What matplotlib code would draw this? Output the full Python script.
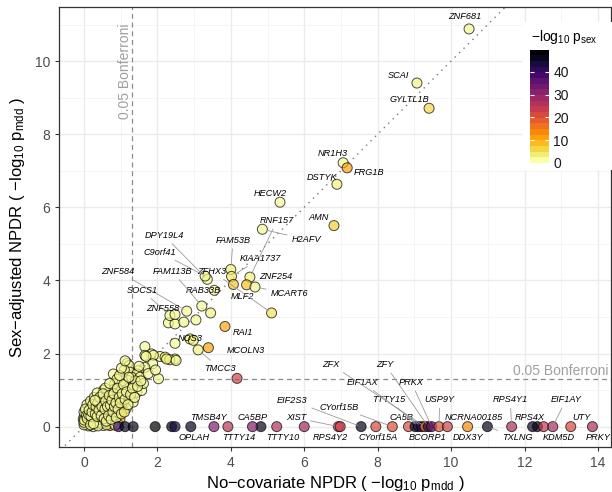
import numpy as np
import matplotlib
matplotlib.use('Agg')
import matplotlib as mpl
import matplotlib.pyplot as plt
from matplotlib.colors import Normalize
from matplotlib.patches import Rectangle

plt.rcParams['font.family'] = 'Liberation Sans'
plt.rcParams['mathtext.fontset'] = 'custom'
plt.rcParams['mathtext.rm'] = 'Liberation Sans'
plt.rcParams['mathtext.it'] = 'Liberation Sans:italic'

# labelled genes: no-covariate -log10 p, sex-adjusted -log10 p, -log10 p(sex)
gene_names = ['ZNF681', 'SCAI', 'GYLTL1B', 'NR1H3', 'FRG1B', 'DSTYK', 'HECW2', 'AMN',
              'H2AFV', 'RNF157', 'FAM53B', 'KIAA1737', 'ZNF254', 'MLF2', 'MCART6', 'ZFHX3',
              'DPY19L4', 'C9orf41', 'RAB33B', 'FAM113B', 'ZNF584', 'SOCS1', 'ZNF558',
              'RAI1', 'NOS3', 'MCOLN3', 'TMCC3',
              'OPLAH', 'TMSB4Y', 'TTTY14', 'CA5BP', 'TTTY10', 'XIST', 'RPS4Y2', 'EIF2S3',
              'CYorf15A', 'CYorf15B', 'CA5B', 'BCORP1', 'TTTY15', 'EIF1AX', 'ZFX', 'ZFY',
              'PRKX', 'USP9Y', 'NCRNA00185', 'DDX3Y', 'TXLNG', 'RPS4Y1', 'RPS4X', 'KDM5D',
              'EIF1AY', 'UTY', 'PRKY']
gene_x = [10.49, 9.07, 9.40, 7.06, 7.17, 6.89, 5.34, 6.81,
          4.86, 4.52, 4.00, 4.02, 4.43, 4.07, 4.66, 5.11,
          3.36, 3.30, 3.55, 3.21, 2.80, 2.34, 2.48,
          3.84, 2.98, 3.39, 3.11,
          2.91, 3.54, 3.92, 4.59, 5.25, 6.93, 6.98, 7.55,
          7.95, 8.40, 8.84, 9.02, 9.11, 9.20, 9.29, 9.38,
          9.47, 9.67, 9.90, 10.45, 10.99, 11.65, 12.22, 12.52,
          12.77, 13.26, 13.85]
gene_y = [10.88, 9.40, 8.71, 7.22, 7.08, 6.63, 6.14, 5.50,
          5.40, 4.09, 4.30, 4.11, 3.88, 3.89, 3.82, 3.11,
          4.03, 4.12, 3.73, 3.30, 3.16, 3.04, 3.07,
          2.74, 2.36, 2.16, 2.10,
          0, 0, 0, 0, 0, 0, 0, 0,
          0, 0, 0, 0, 0, 0, 0, 0,
          0, 0, 0, 0, 0, 0, 0, 0,
          0, 0, 0]
gene_psex = [1, 1.5, 5, 1, 10, 2, 1, 6,
             1, 2, 2, 3, 7, 7, 1.5, 4,
             1, 1.5, 1, 1, 1, 1, 1,
             10, 2, 10, 2,
             47, 32, 25, 32, 26, 22, 23, 47,
             21, 20, 20, 46, 45, 42, 14, 44,
             35, 20, 22, 13, 47, 27, 47, 24,
             27, 21, 27]

# unlabelled genes
bg_x = [3.45, 3.05, 2.30, 2.48, 2.72, 1.66, 2.48, 2.89, 1.84, 1.66, 2.07, 2.21, 2.48,
        1.89, 2.34, 4.17,
        1.69, 2.25, 2.51, 1.18, 1.23, 1.87, 1.66, 1.48, 1.25, 1.44, 0.80, 2.03, 1.30,
        1.21, 1.53, 0.84, 0.98, 1.25, 1.44, 1.57, 0.53, 0.48, 0.39, 0.62, 0.75, 0.89,
        1.07, 1.25, 1.34, 1.07, 0.30, 0.21, 0.35, 0.53, 0.71, 0.89, 0.03, -0.02, 0.12,
        0.25, 0.44, 0.62, 0.80, 0.98, 0.03, 0.16, 0.35, 0.53, 0.25, 0.71,
        0.05, 0.10, 0.15, 0.20, 0.28, 0.32, 0.40, 0.45, 0.50, 0.58, 0.65, 0.70, 0.78,
        0.85, 0.92, 0.06, 0.10, 0.16, 0.40, 0.48, 0.56, 0.66, 0.75, 0.85, 0.95, 0.28,
        0.42, 0.60, 0.68, 0.78, 0.95, 1.15, 0.46, 0.55, 0.68, 0.82, 0.92, 1.00, 1.10,
        1.18, 1.05, 1.35, 1.40, 0.90, 1.62, 1.75, 1.95, 1.10, 0.12, 0.38, 0.62, 0.85,
        0.02, 0.08, 0.18, 0.28, 0.36, 0.58, 0.70, 1.03,
        0.00, 0.00, 0.01, 0.00, 0.04, 0.07, 0.09, 0.13, 0.14, 0.18, 0.19, 0.22, 0.24,
        0.26, 0.31, 0.33, 0.36, 0.38, 0.41, 0.43, 0.47, 0.49, 0.52, 0.55, 0.57, 0.59,
        0.61, 0.64, 0.67, 0.69, 0.72, 0.74, 0.76, 0.79, 0.81, 0.83, 0.87, 0.88, 0.91,
        0.93, 0.96, 0.99, 1.02, 1.04, 1.08, 1.12, 1.10, 1.16, 1.20, 1.22, 1.27, 1.32,
        1.38, 1.46, 1.50, 1.55, 0.97, 1.02, 1.12, 0.30,
        0.94, 1.12, 1.34, 1.94, 2.39, 2.48, 4.82, 6.00, 12.35]
bg_y = [3.11, 2.92, 2.84, 2.81, 2.86, 2.19, 2.28, 2.40, 1.99, 1.95, 1.92, 1.90, 1.85,
        1.95, 1.83, 1.32,
        1.92, 1.85, 1.81, 1.73, 1.67, 1.72, 1.62, 1.53, 1.49, 1.44, 1.44, 1.31, 1.35,
        1.26, 1.35, 1.17, 1.12, 0.99, 0.94, 0.99, 0.99, 0.85, 0.76, 0.80, 0.85, 0.76,
        0.71, 0.76, 0.67, 0.60, 0.62, 0.53, 0.44, 0.53, 0.48, 0.44, 0.35, 0.21, 0.25,
        0.30, 0.25, 0.30, 0.25, 0.21, 0.07, 0.03, 0.07, 0.03, 0.0, 0.03,
        0.15, 0.10, 0.18, 0.12, 0.16, 0.22, 0.14, 0.10, 0.18, 0.12, 0.20, 0.14, 0.10,
        0.15, 0.08, 0.42, 0.48, 0.38, 0.36, 0.42, 0.38, 0.42, 0.35, 0.32, 0.38, 0.48,
        0.58, 0.62, 0.70, 0.62, 0.55, 0.50, 0.68, 0.75, 0.95, 1.02, 0.92, 0.98, 0.88,
        1.05, 1.25, 1.12, 1.25, 1.30, 1.18, 1.45, 1.55, 1.55, 0.02, 0.02, 0.05, 0.04,
        0.28, 0.60, 0.70, 0.80, 0.92, 1.05, 1.18, 0.62,
        0.05, 0.12, 0.18, 0.40, 0.48, 0.30, 0.22, 0.32, 0.45, 0.05, 0.28, 0.40, 0.60,
        0.08, 0.35, 0.55, 0.28, 0.65, 0.45, 0.80, 0.30, 0.55, 0.90, 0.22, 0.48, 0.70,
        0.15, 0.55, 0.30, 0.85, 0.58, 0.20, 0.72, 0.40, 0.90, 0.55, 0.65, 0.25, 1.05,
        0.48, 0.80, 0.65, 0.35, 0.90, 1.15, 0.75, 0.40, 0.95, 0.60, 1.35, 0.88, 1.05,
        0.80, 1.10, 1.65, 1.25, 1.40, 1.60, 1.80, 0.72,
        0, 0, 0, 0, 0, 0, 0, 0, 0]
bg_psex = [2, 1, 1, 1, 1, 1, 1, 2, 1, 1, 1, 2, 1,
           1, 2, 22,
           1, 2, 1, 1, 1, 1, 1, 1, 1, 1, 1, 1, 1,
           1, 1, 1, 1, 1, 1, 1, 1, 1, 1, 1, 2, 1,
           1, 1, 1, 8, 1, 1, 1, 1, 1, 1, 1, 1, 1,
           1, 1, 1, 1, 9, 1, 1, 1, 1, 1, 12,
           1, 2, 1, 1, 1, 1, 1, 1, 1, 1, 1, 1, 1,
           1, 1, 1, 1, 1, 1, 1, 1, 1, 1, 1, 1, 1,
           1, 1, 1, 1, 1, 1, 1, 1, 1, 1, 1, 1, 1,
           1, 1, 1, 1, 1, 1, 1, 1, 1, 1, 1, 1, 1,
           1, 1, 1, 1, 1, 1, 1, 8,
           1, 1, 2, 1, 1, 1, 1, 1, 1, 1, 1, 1, 1,
           1, 1, 1, 1, 1, 1, 1, 1, 1, 1, 1, 1, 1,
           1, 1, 1, 1, 1, 1, 1, 1, 1, 1, 1, 1, 1,
           1, 1, 1, 1, 1, 1, 1, 3, 1, 1, 1, 1, 1,
           1, 1, 1, 1, 1, 1, 1, 1,
           40, 47, 47, 49.5, 48, 44, 47, 28, 47]

bonf = 1.3
psex_max = 49.7

# where each label sits (text centre) and whether it gets a leader line
label_pos = {
    'ZNF681': (10.38, 11.21, False), 'SCAI': (8.56, 9.62, False), 'GYLTL1B': (8.86, 8.96, False),
    'NR1H3': (6.78, 7.48, False), 'FRG1B': (7.77, 6.96, False), 'DSTYK': (6.49, 6.82, False),
    'HECW2': (5.07, 6.38, False), 'AMN': (6.38, 5.73, False), 'H2AFV': (6.05, 5.12, True),
    'RNF157': (5.26, 5.64, True), 'FAM53B': (4.06, 5.10, True), 'KIAA1737': (4.80, 4.60, True),
    'ZNF254': (5.23, 4.11, False), 'MLF2': (4.33, 3.56, False), 'MCART6': (5.59, 3.64, True),
    'ZFHX3': (3.49, 4.25, True), 'DPY19L4': (2.18, 5.23, True), 'C9orf41': (2.07, 4.77, True),
    'RAB33B': (3.24, 3.73, False), 'FAM113B': (2.40, 4.25, True), 'ZNF584': (0.93, 4.25, True),
    'SOCS1': (1.58, 3.73, True), 'ZNF558': (2.15, 3.23, False), 'RAI1': (4.33, 2.58, False),
    'NOS3': (2.89, 2.41, False), 'MCOLN3': (4.41, 2.08, False), 'TMCC3': (3.71, 1.59, True),
    'OPLAH': (3.01, -0.30, False), 'TMSB4Y': (3.39, 0.24, False), 'TTTY14': (4.22, -0.30, False),
    'CA5BP': (4.60, 0.24, False), 'TTTY10': (5.42, -0.30, False), 'XIST': (5.78, 0.24, True),
    'RPS4Y2': (6.70, -0.30, False), 'EIF2S3': (5.68, 0.71, True), 'CYorf15A': (8.00, -0.30, False),
    'CYorf15B': (6.95, 0.53, True), 'CA5B': (8.64, 0.24, False), 'BCORP1': (9.36, -0.30, False),
    'TTTY15': (8.30, 0.74, True), 'EIF1AX': (7.59, 1.21, True), 'ZFX': (6.73, 1.70, True),
    'ZFY': (8.20, 1.70, True), 'PRKX': (8.92, 1.21, True), 'USP9Y': (9.69, 0.74, True),
    'NCRNA00185': (10.63, 0.24, False), 'DDX3Y': (10.45, -0.30, False), 'TXLNG': (11.80, -0.30, True),
    'RPS4Y1': (11.61, 0.74, True), 'RPS4X': (12.15, 0.24, False), 'KDM5D': (12.94, -0.30, False),
    'EIF1AY': (13.13, 0.74, True), 'UTY': (13.54, 0.24, False), 'PRKY': (14.02, -0.30, False),
}

cmap = mpl.colormaps['inferno_r']
norm = Normalize(0, psex_max)

fig = plt.figure(figsize=(6.12, 4.92), dpi=100)
ax = fig.add_axes([0.097, 0.092, 0.901, 0.893])

ax.plot([-1, 15], [-1, 15], ls=(0, (1, 3.5)), color='#777777', lw=1.0, zorder=2)
ax.axhline(bonf, ls=(0, (4, 3)), color='#8c8c8c', lw=0.9, zorder=2)
ax.axvline(bonf, ls=(0, (4, 3)), color='#8c8c8c', lw=0.9, zorder=2)

pt = dict(cmap=cmap, norm=norm, s=52, alpha=0.7, edgecolors='black', linewidths=0.7, zorder=3)
ax.scatter(bg_x, bg_y, c=bg_psex, **pt)
ax.scatter(gene_x, gene_y, c=gene_psex, **pt)

for g, gx, gy in zip(gene_names, gene_x, gene_y):
    tx, ty, line = label_pos[g]
    arrow = dict(arrowstyle='-', color='#9a9a9a', lw=0.6, shrinkA=1, shrinkB=3) if line else None
    ax.annotate(g, xy=(gx, gy), xytext=(tx, ty), ha='center', va='center', fontsize=6.6,
                style='italic', color='black', arrowprops=arrow, zorder=4)

ax.text(bonf, 11.02, '0.05 Bonferroni', rotation=90, ha='right', va='top', fontsize=10, color='#a0a0a0')
ax.text(14.28, bonf + 0.04, '0.05 Bonferroni', ha='right', va='bottom', fontsize=10, color='#a0a0a0')

ax.set_xlim(-0.67, 14.35)
ax.set_ylim(-0.55, 11.47)
ax.set_xticks(range(0, 15, 2))
ax.set_xticks(range(1, 15, 2), minor=True)
ax.set_yticks(range(0, 11, 2))
ax.set_yticks(range(1, 12, 2), minor=True)
ax.grid(which='major', color='#EBEBEB', lw=1.0)
ax.grid(which='minor', color='#F2F2F2', lw=0.5)
ax.set_axisbelow(True)
ax.tick_params(which='major', length=3, color='#333333', labelsize=10, labelcolor='#4D4D4D', width=0.8)
ax.tick_params(which='minor', length=0)
for s in ax.spines.values():
    s.set_color('#333333')
    s.set_linewidth(0.9)

ax.set_xlabel(r'No−covariate NPDR ( $-\mathrm{log}_{10}\ \mathrm{p}_{\mathrm{mdd}}$ )', fontsize=12, labelpad=3)
ax.set_ylabel(r'Sex−adjusted NPDR ( $-\mathrm{log}_{10}\ \mathrm{p}_{\mathrm{mdd}}$ )', fontsize=12, labelpad=6)

# legend box over the panel
ax.add_patch(Rectangle((0.853, 0.6545), 0.147, 0.301, transform=fig.transFigure,
                       facecolor='white', edgecolor='none', zorder=10, clip_on=False))
fig.text(0.868, 0.925, r'$-\mathrm{log}_{10}\ \mathrm{p}_{\mathrm{sex}}$', ha='left', va='center', fontsize=10)

cax = fig.add_axes([0.866, 0.669, 0.031, 0.23])
sm = mpl.cm.ScalarMappable(norm=norm, cmap=cmap.resampled(20))
cb = fig.colorbar(sm, cax=cax, ticks=[0, 10, 20, 30, 40])
cb.outline.set_visible(False)
cb.minorticks_off()
cax.tick_params(axis='y', direction='in', color='white', length=3, width=0.8, left=True, right=True,
                labelleft=False, labelright=True, labelsize=10, labelcolor='#1a1a1a', pad=3)

fig.savefig('out.png', dpi=100)
